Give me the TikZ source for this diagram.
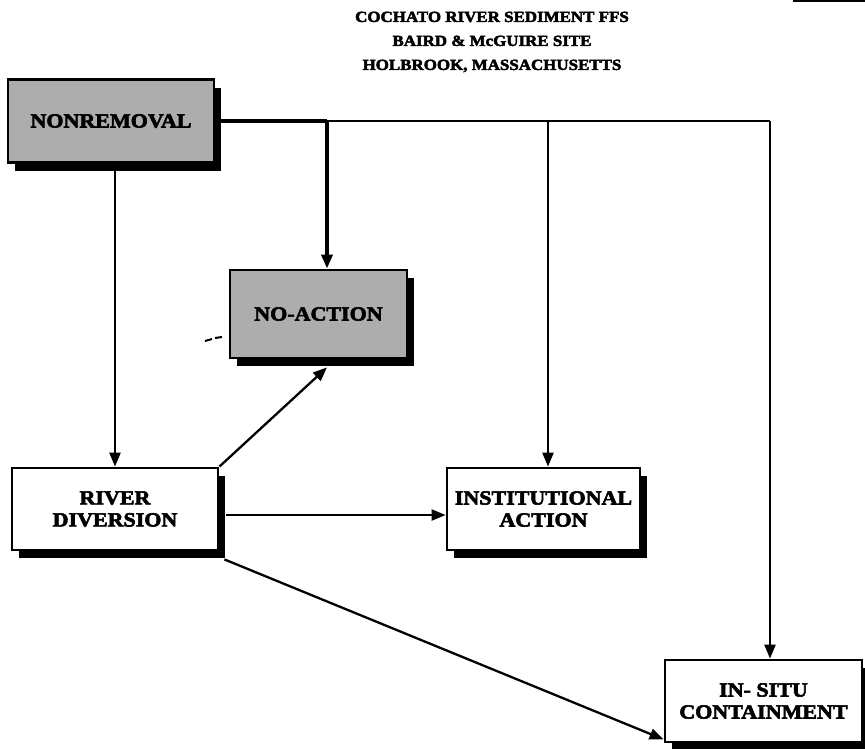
\documentclass[tikz,border=0pt]{standalone}
\usepackage{fontspec}
\newfontfamily\heavyserif{Liberation Serif Bold}[FakeStretch=1.1, FakeBold=3]
\usetikzlibrary{arrows.meta,shadows,calc}

\tikzset{
  box/.style={draw, line width=2.8pt, fill=white, align=center,
    font=\heavyserif\fontsize{20}{22}\selectfont,
    general shadow={fill=black, shadow xshift=7pt, shadow yshift=-8pt}},
  greybox/.style={box, fill=black!32},
  link/.style={line width=2.3pt, -{Triangle[length=14pt,width=11pt]}},
  heavylink/.style={link, line width=4pt},
  trunk/.style={line width=2.3pt},
  heavytrunk/.style={line width=4pt},
}

\begin{document}
\begin{tikzpicture}[x=1pt,y=-1pt]
\useasboundingbox (0,0) rectangle (865,748);

% heading
\node[font=\heavyserif\fontsize{15.4}{24}\selectfont, align=center] (title) at (492,42)
  {COCHATO RIVER SEDIMENT FFS\\BAIRD \& McGUIRE SITE\\HOLBROOK, MASSACHUSETTS};

% alternatives
\node[greybox, minimum width=206pt, minimum height=83pt] (nonrem) at (111,121) {NONREMOVAL};
\node[greybox, minimum width=177pt, minimum height=88pt] (noact) at (318.5,314) {NO-ACTION};
\node[box, minimum width=206pt, minimum height=82pt] (rdiv) at (115,509) {RIVER\\DIVERSION};
\node[box, minimum width=193pt, minimum height=82pt] (inst) at (543.5,509) {INSTITUTIONAL\\ACTION};
\node[box, minimum width=197pt, minimum height=82pt] (insitu) at (763.5,701) {IN- SITU\\CONTAINMENT};

% branch points on the line leaving NONREMOVAL
\coordinate (jA) at (327,121);
\coordinate (jB) at (548,121);
\coordinate (jC) at (770,121);

\draw[heavytrunk] (nonrem.east) -- (jA);
\draw[trunk] (jA) -- (jC);
\draw[heavylink] (jA) -- (jA |- noact.north);
\draw[link] (jB) -- (jB |- inst.north);
\draw[link] (jC) -- (jC |- insitu.north);
\draw[link] (nonrem.south -| rdiv.north) -- (rdiv.north);

% links out of RIVER DIVERSION
\draw[link] (rdiv.north east) -- ($(noact.south)+(8.5,8)$);
\draw[link] ($(rdiv.east)+(7,6)$) -- ($(inst.west)+(0,6)$);
\draw[link] ($(rdiv.south east)+(5,8)$) -- ($(insitu.south west)+(0,-4)$);

% stray marks
\draw[line width=2pt] (205,341) -- (212,339) (215,338) -- (222,337);
\draw[line width=1.5pt] (793,1) -- (865,1);
\end{tikzpicture}
\end{document}
